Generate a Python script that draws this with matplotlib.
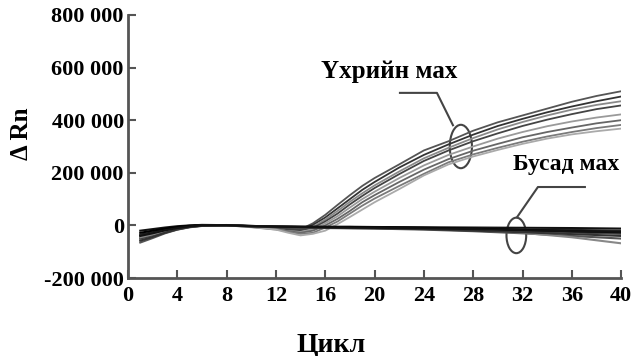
import matplotlib
matplotlib.use('Agg')
import matplotlib.pyplot as plt
from matplotlib.patches import Ellipse
from matplotlib.ticker import FuncFormatter
import numpy as np

plt.rcParams['font.family'] = ['Liberation Serif', 'DejaVu Serif']
plt.rcParams['font.weight'] = 'bold'

# amplification curves (beef samples), delta Rn in thousands
beef_cycles = [1, 2, 3, 4, 5, 6, 8, 10, 12, 13, 14, 15, 16, 17, 18, 19, 20,
               22, 24, 26, 28, 30, 32, 34, 36, 38, 40]
beef_curves = [
    [-45, -35, -22, -12, -5, 0, 0, -5, -12, -15, -15, 8, 40, 78, 115, 150, 180, 232, 285, 320, 360, 392, 418, 444, 470, 492, 510],
    [-40, -30, -20, -10, -3, 2, 1, -4, -10, -14, -16, 2, 30, 65, 100, 135, 165, 220, 268, 308, 345, 378, 405, 430, 452, 472, 490],
    [-50, -38, -25, -14, -6, -1, 0, -6, -14, -18, -20, -5, 22, 55, 90, 122, 152, 205, 255, 295, 332, 365, 393, 418, 440, 458, 472],
    [-35, -28, -18, -9, -3, 1, 2, -3, -10, -15, -18, -10, 15, 45, 80, 112, 142, 195, 245, 285, 320, 350, 378, 402, 423, 442, 456],
    [-55, -42, -28, -16, -7, -2, 0, -7, -16, -22, -25, -15, 8, 35, 68, 100, 128, 180, 228, 268, 300, 330, 355, 377, 395, 410, 422],
    [-45, -35, -22, -12, -5, 0, 1, -5, -14, -22, -28, -20, 0, 25, 55, 88, 115, 165, 212, 252, 284, 310, 335, 355, 372, 388, 400],
    [-38, -30, -20, -11, -4, 1, 2, -4, -13, -24, -32, -28, -8, 15, 45, 75, 102, 150, 196, 240, 270, 295, 318, 338, 355, 370, 382],
    [-48, -37, -24, -13, -5, 0, 0, -6, -16, -28, -38, -32, -20, 5, 32, 60, 88, 138, 190, 232, 262, 287, 310, 330, 346, 358, 368],
]
beef_colors = ['#555555', '#333333', '#8a8a8a', '#444444', '#9a9a9a', '#666666', '#7a7a7a', '#aaaaaa']

# other meats: no amplification
other_cycles = [1, 2, 3, 4, 5, 6, 8, 10, 12, 14, 16, 18, 20, 24, 28, 32, 36, 40]
other_curves = [
    [-20, -14, -8, -3, 0, 2, 1, -2, -4, -5, -5, -5, -6, -7, -8, -9, -10, -12],
    [-35, -26, -16, -8, -3, 0, 0, -3, -5, -6, -6, -7, -8, -10, -12, -15, -17, -20],
    [-50, -38, -24, -13, -5, -1, 0, -3, -6, -8, -8, -9, -10, -13, -17, -22, -27, -32],
    [-65, -48, -30, -16, -7, -2, 0, -4, -7, -9, -10, -11, -12, -16, -22, -30, -40, -50],
    [-45, -34, -21, -11, -4, 0, 1, -2, -5, -7, -7, -8, -9, -12, -18, -28, -45, -68],
    [-28, -20, -12, -6, -1, 1, 1, -2, -4, -5, -6, -6, -7, -9, -12, -17, -22, -26],
    [-58, -44, -28, -15, -6, -1, 0, -3, -6, -8, -9, -10, -11, -14, -20, -26, -33, -40],
    [-40, -30, -19, -10, -4, 0, 1, -3, -5, -6, -7, -8, -9, -11, -14, -18, -22, -25],
]
other_colors = ['#111111', '#222222', '#444444', '#555555', '#888888', '#000000', '#333333', '#111111']

xticks = list(range(0, 41, 4))
yticks = [-200000, 0, 200000, 400000, 600000, 800000]

fig = plt.figure(figsize=(6.43, 3.56), dpi=100)
ax = fig.add_axes([0.199, 0.219, 0.767, 0.739])

for vals, col in zip(beef_curves, beef_colors):
    ax.plot(beef_cycles, np.array(vals) * 1000, color=col, lw=1.3)
for vals, col in zip(other_curves, other_colors):
    ax.plot(other_cycles, np.array(vals) * 1000, color=col, lw=1.5)

ax.set_xlim(0, 40)
ax.set_ylim(-200000, 800000)
ax.set_xticks(xticks)
ax.set_yticks(yticks)
ax.yaxis.set_major_formatter(FuncFormatter(lambda v, p: f'{int(v):,}'.replace(',', ' ')))
ax.tick_params(direction='in', length=6, width=1.5, color='#555555', labelsize=16)
ax.tick_params(axis='x', pad=6)
ax.tick_params(axis='y', pad=3)
for lab in ax.get_xticklabels() + ax.get_yticklabels():
    lab.set_fontweight('bold')

for s in ['top', 'right']:
    ax.spines[s].set_visible(False)
for s in ['left', 'bottom']:
    ax.spines[s].set_linewidth(2)
    ax.spines[s].set_color('#555555')

# group markers with callouts
ax.add_patch(Ellipse((27.0, 300000), 1.8, 165000, fill=False, ec='#444444', lw=1.5))
ax.plot([22.06, 25.06, 26.36], [503800, 503800, 380800], color='#444444', lw=1.5)
ax.text(21.2, 585000, 'Үхрийн мах', fontsize=18, fontweight='bold', ha='center', va='center')

ax.add_patch(Ellipse((31.5, -38000), 1.6, 135000, fill=False, ec='#444444', lw=1.5))
ax.plot([37.06, 33.25, 31.55], [146000, 146000, 30800], color='#444444', lw=1.5)
ax.text(35.5, 231000, 'Бусад мах', fontsize=17, fontweight='bold', ha='center', va='center')

fig.text(22 / 643, 1 - 134 / 356, 'Δ Rn', rotation=90, fontsize=18, fontweight='bold',
         ha='center', va='center')
fig.text(331 / 643, 1 - 345 / 356, 'Цикл', fontsize=20, fontweight='bold',
         ha='center', va='center')

fig.savefig('out.png', dpi=100)
